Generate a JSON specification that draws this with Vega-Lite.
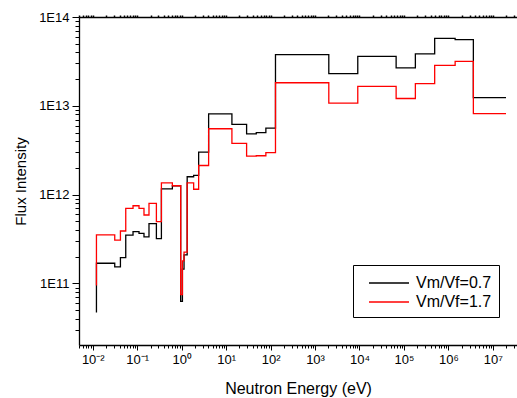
{
  "$schema": "https://vega.github.io/schema/vega-lite/v6.json",
  "autosize": {"type": "none"},
  "padding": {"left": 79, "top": 17, "right": 0, "bottom": 53},
  "width": 438,
  "height": 328,
  "background": "white",
  "config": {
    "view": {"stroke": null},
    "font": "Liberation Sans",
    "axis": {"grid": false, "domainColor": "black", "tickColor": "black", "labelColor": "black", "titleColor": "black", "titleFontWeight": "normal", "labelFont": "Liberation Sans", "titleFont": "Liberation Sans"}
  },
  "datasets": {
    "flux": [
      {"E": 0.0121, "F": 4.7e10, "s": "Vm/Vf=0.7"},
      {"E": 0.0312, "F": 1.69e11, "s": "Vm/Vf=0.7"},
      {"E": 0.0419, "F": 1.54e11, "s": "Vm/Vf=0.7"},
      {"E": 0.0552, "F": 1.96e11, "s": "Vm/Vf=0.7"},
      {"E": 0.0805, "F": 3.5e11, "s": "Vm/Vf=0.7"},
      {"E": 0.1097, "F": 3.84e11, "s": "Vm/Vf=0.7"},
      {"E": 0.142, "F": 3.67e11, "s": "Vm/Vf=0.7"},
      {"E": 0.184, "F": 3.34e11, "s": "Vm/Vf=0.7"},
      {"E": 0.27, "F": 4.72e11, "s": "Vm/Vf=0.7"},
      {"E": 0.35, "F": 3.2e11, "s": "Vm/Vf=0.7"},
      {"E": 0.618, "F": 1.16e12, "s": "Vm/Vf=0.7"},
      {"E": 0.95, "F": 1.26e12, "s": "Vm/Vf=0.7"},
      {"E": 1.04, "F": 6.3e10, "s": "Vm/Vf=0.7"},
      {"E": 1.13, "F": 1.45e11, "s": "Vm/Vf=0.7"},
      {"E": 1.33, "F": 2.1e11, "s": "Vm/Vf=0.7"},
      {"E": 1.86, "F": 1.59e12, "s": "Vm/Vf=0.7"},
      {"E": 2.41, "F": 1.65e12, "s": "Vm/Vf=0.7"},
      {"E": 4.04, "F": 3.01e12, "s": "Vm/Vf=0.7"},
      {"E": 13.5, "F": 8.13e12, "s": "Vm/Vf=0.7"},
      {"E": 28.9, "F": 6.17e12, "s": "Vm/Vf=0.7"},
      {"E": 47.7, "F": 4.84e12, "s": "Vm/Vf=0.7"},
      {"E": 78.4, "F": 4.98e12, "s": "Vm/Vf=0.7"},
      {"E": 129, "F": 5.6e12, "s": "Vm/Vf=0.7"},
      {"E": 2042, "F": 3.77e13, "s": "Vm/Vf=0.7"},
      {"E": 9160, "F": 2.31e13, "s": "Vm/Vf=0.7"},
      {"E": 66800, "F": 3.6e13, "s": "Vm/Vf=0.7"},
      {"E": 181000, "F": 2.67e13, "s": "Vm/Vf=0.7"},
      {"E": 492000, "F": 3.84e13, "s": "Vm/Vf=0.7"},
      {"E": 1420000, "F": 5.75e13, "s": "Vm/Vf=0.7"},
      {"E": 3650000, "F": 5.56e13, "s": "Vm/Vf=0.7"},
      {"E": 19800000, "F": 1.24e13, "s": "Vm/Vf=0.7"},
      {"E": 0.0121, "F": 9.5e10, "s": "Vm/Vf=1.7"},
      {"E": 0.0312, "F": 3.52e11, "s": "Vm/Vf=1.7"},
      {"E": 0.0419, "F": 3.07e11, "s": "Vm/Vf=1.7"},
      {"E": 0.0552, "F": 3.9e11, "s": "Vm/Vf=1.7"},
      {"E": 0.0805, "F": 7.0e11, "s": "Vm/Vf=1.7"},
      {"E": 0.1097, "F": 7.5e11, "s": "Vm/Vf=1.7"},
      {"E": 0.142, "F": 7.0e11, "s": "Vm/Vf=1.7"},
      {"E": 0.184, "F": 5.9e11, "s": "Vm/Vf=1.7"},
      {"E": 0.27, "F": 7.98e11, "s": "Vm/Vf=1.7"},
      {"E": 0.35, "F": 4.98e11, "s": "Vm/Vf=1.7"},
      {"E": 0.618, "F": 1.36e12, "s": "Vm/Vf=1.7"},
      {"E": 0.95, "F": 1.26e12, "s": "Vm/Vf=1.7"},
      {"E": 1.04, "F": 7.5e10, "s": "Vm/Vf=1.7"},
      {"E": 1.13, "F": 1.8e11, "s": "Vm/Vf=1.7"},
      {"E": 1.33, "F": 2.26e11, "s": "Vm/Vf=1.7"},
      {"E": 1.86, "F": 1.36e12, "s": "Vm/Vf=1.7"},
      {"E": 2.41, "F": 1.15e12, "s": "Vm/Vf=1.7"},
      {"E": 4.04, "F": 2.13e12, "s": "Vm/Vf=1.7"},
      {"E": 13.5, "F": 5.52e12, "s": "Vm/Vf=1.7"},
      {"E": 28.9, "F": 3.77e12, "s": "Vm/Vf=1.7"},
      {"E": 47.7, "F": 2.72e12, "s": "Vm/Vf=1.7"},
      {"E": 78.4, "F": 2.74e12, "s": "Vm/Vf=1.7"},
      {"E": 129, "F": 2.97e12, "s": "Vm/Vf=1.7"},
      {"E": 2042, "F": 1.82e13, "s": "Vm/Vf=1.7"},
      {"E": 9160, "F": 1.07e13, "s": "Vm/Vf=1.7"},
      {"E": 66800, "F": 1.66e13, "s": "Vm/Vf=1.7"},
      {"E": 181000, "F": 1.21e13, "s": "Vm/Vf=1.7"},
      {"E": 492000, "F": 1.78e13, "s": "Vm/Vf=1.7"},
      {"E": 1420000, "F": 2.86e13, "s": "Vm/Vf=1.7"},
      {"E": 3650000, "F": 3.17e13, "s": "Vm/Vf=1.7"},
      {"E": 19800000, "F": 8.18e12, "s": "Vm/Vf=1.7"}
    ]
  },
  "data": {"name": "flux"},
  "resolve": {"axis": {"x": "independent", "y": "independent"}},
  "layer": [
    {
      "mark": {"type": "line", "interpolate": "step-before", "strokeWidth": 1.3, "clip": true},
      "encoding": {
        "x": {"field": "E", "type": "quantitative",
          "scale": {"type": "log", "domain": [0.0049, 35000000], "nice": false},
          "axis": {"orient": "bottom", "values": [0.01, 0.1, 1, 10, 100, 1000, 10000, 100000, 1000000, 10000000],
            "labelExpr": "'10' + ['⁻²','⁻¹','⁰','¹','²','³','⁴','⁵','⁶','⁷'][round(log(datum.value)/LN10)+2]",
            "tickSize": 5, "tickWidth": 1, "domainWidth": 1.3, "labelFontSize": 13, "labelPadding": 3,
            "title": "Neutron Energy (eV)", "titleFontSize": 16, "titlePadding": 14}},
        "y": {"field": "F", "type": "quantitative",
          "scale": {"type": "log", "domain": [20300000000, 100000000000000], "nice": false},
          "axis": {"orient": "left", "values": [100000000000, 1000000000000, 10000000000000, 100000000000000],
            "labelExpr": "'1E' + round(log(datum.value)/LN10)",
            "tickSize": 7, "tickWidth": 1, "domainWidth": 1.3, "labelFontSize": 13, "labelPadding": 3,
            "title": "Flux Intensity", "titleFontSize": 15, "titlePadding": 10}},
        "color": {"field": "s", "type": "nominal",
          "scale": {"domain": ["Vm/Vf=0.7", "Vm/Vf=1.7"], "range": ["#000000", "#ff0000"]},
          "legend": {"title": null, "orient": "none", "legendX": 274, "legendY": 248,
            "strokeColor": "black", "fillColor": "white", "padding": 7,
            "symbolType": "M-0.2,0H3.8", "symbolSize": 400, "symbolStrokeWidth": 1.3,
            "labelFontSize": 16, "labelColor": "black", "labelOffset": 34, "rowPadding": 0}}
      }
    },
    {
      "mark": {"type": "line", "opacity": 0},
      "encoding": {
        "x": {"field": "E", "type": "quantitative",
          "axis": {"orient": "bottom", "labels": false, "domain": false, "tickSize": 3, "title": null,
            "values": [0.005,0.006,0.007,0.008,0.009,0.02,0.03,0.04,0.05,0.06,0.07,0.08,0.09,0.2,0.3,0.4,0.5,0.6,0.7,0.8,0.9,2,3,4,5,6,7,8,9,20,30,40,50,60,70,80,90,200,300,400,500,600,700,800,900,2000,3000,4000,5000,6000,7000,8000,9000,20000,30000,40000,50000,60000,70000,80000,90000,200000,300000,400000,500000,600000,700000,800000,900000,2000000,3000000,4000000,5000000,6000000,7000000,8000000,9000000,20000000,30000000]}},
        "y": {"field": "F", "type": "quantitative",
          "axis": {"orient": "left", "labels": false, "domain": false, "tickSize": 4, "title": null,
            "values": [30000000000,40000000000,50000000000,60000000000,70000000000,80000000000,90000000000,200000000000,300000000000,400000000000,500000000000,600000000000,700000000000,800000000000,900000000000,2000000000000,3000000000000,4000000000000,5000000000000,6000000000000,7000000000000,8000000000000,9000000000000,20000000000000,30000000000000,40000000000000,50000000000000,60000000000000,70000000000000,80000000000000,90000000000000]}}
      }
    },
    {
      "mark": {"type": "line", "opacity": 0},
      "encoding": {
        "x": {"field": "E", "type": "quantitative",
          "axis": {"orient": "top", "labels": false, "domain": true, "domainWidth": 1.5, "tickSize": 2, "tickWidth": 1.5, "title": null,
            "values": [0.005,0.006,0.007,0.008,0.009,0.01,0.02,0.03,0.04,0.05,0.06,0.07,0.08,0.09,0.1,0.2,0.3,0.4,0.5,0.6,0.7,0.8,0.9,1,2,3,4,5,6,7,8,9,10,20,30,40,50,60,70,80,90,100,200,300,400,500,600,700,800,900,1000,2000,3000,4000,5000,6000,7000,8000,9000,10000,20000,30000,40000,50000,60000,70000,80000,90000,100000,200000,300000,400000,500000,600000,700000,800000,900000,1000000,2000000,3000000,4000000,5000000,6000000,7000000,8000000,9000000,10000000,20000000,30000000]}},
        "y": {"field": "F", "type": "quantitative", "axis": null}
      }
    }
  ]
}
